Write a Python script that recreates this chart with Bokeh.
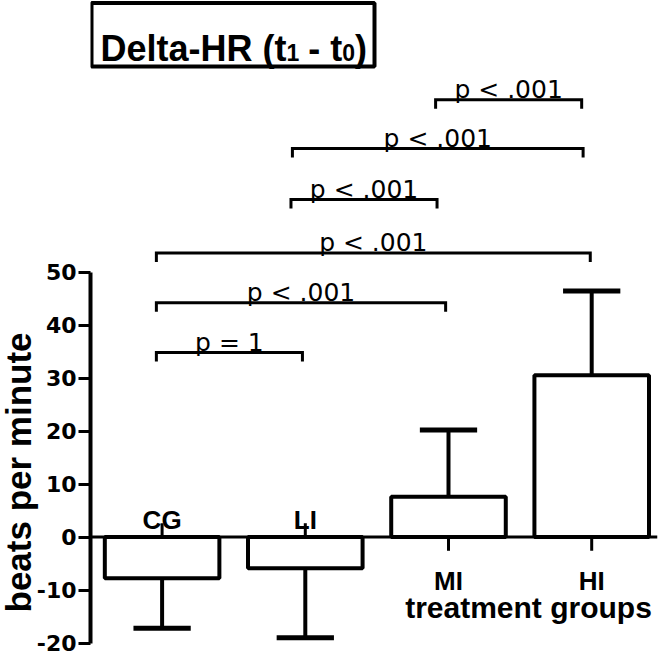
import numpy as np
from bokeh.plotting import figure
from bokeh.models import Range1d, FixedTicker, Span, Title
from bokeh.core.properties import value
from bokeh.embed import file_html
from bokeh.resources import INLINE

# ---------------- data ----------------
groups = ["CG", "LI", "MI", "HI"]
means = [-7.8, -5.9, 7.6, 30.5]          # beats per minute
sds = [9.4, 13.1, 12.6, 15.9]            # one-sided error bars
y_ticks = [-20, -10, 0, 10, 20, 30, 40, 50]

br_left = [0.96, 0.96, 0.96, 1.90, 1.91, 2.91]
br_right = [1.98, 2.98, 3.99, 2.92, 3.94, 3.93]
br_y = [34.8, 44.2, 53.6, 63.7, 73.3, 82.5]
br_text = ["p = 1", "p < .001", "p < .001", "p < .001", "p < .001", "p < .001"]

title_parts = ["Delta-HR (t", "1", "- t", "0", ")"]
y_label = "beats per minute"
x_label = "treatment groups"

# ---------------- layout ----------------
W, H = 660, 656
X0, X1 = 0.5, 4.4595
YPX = 5.3            # pixels per unit
Y1 = 536.5 / YPX
Y0 = (536.5 - H) / YPX
BL, BR, BT, BB = 90, 3, 0, 0
FW = W - BL - BR
FH = H - BT - BB
XS = FW / (X1 - X0)
YS = FH / (Y1 - Y0)


def px2x(ix):
    return X0 + (ix - BL) / XS


def px2y(iy):
    return Y1 - (iy - BT) / YS


p = figure(width=W, height=H, x_range=Range1d(X0, X1), y_range=Range1d(Y0, Y1),
           output_backend="svg", toolbar_location=None, x_axis_location=None,
           min_border_left=BL, min_border_right=BR, min_border_top=BT,
           min_border_bottom=BB)
p.grid.visible = False
p.outline_line_color = None
p.background_fill_color = "white"

yax = p.yaxis[0]
yax.ticker = FixedTicker(ticks=y_ticks)
yax.major_label_overrides = {t: str(t) for t in y_ticks}
yax.bounds = (-20, 50)
yax.minor_tick_line_color = None
yax.major_tick_in = 0
yax.major_tick_out = 12
yax.axis_line_width = 4
yax.major_tick_line_width = 3
yax.axis_line_color = "black"
yax.major_tick_line_color = "black"
yax.major_label_text_font = "DejaVu Sans"
yax.major_label_text_font_style = "bold"
yax.major_label_text_font_size = "22px"
yax.major_label_text_color = "black"
yax.major_label_standoff = 2

# y axis label as a left-side title, placed along the axis extent
p.add_layout(Title(text=y_label, align="left", offset=44, standoff=-8,
                   vertical_align="bottom", text_font="Liberation Sans",
                   text_font_style="bold", text_font_size="35px",
                   text_color="black"), "left")

x = np.arange(1, len(groups) + 1, dtype=float)
m = np.array(means)
s = np.array(sds)
sgn = np.sign(m)
ends = m + sgn * s

# bars
p.vbar(x=x, top=m, bottom=0, width=0.8, fill_color="white",
       line_color="black", line_width=4)
# error bars (one-sided)
p.segment(x0=x, y0=m, x1=x, y1=ends, line_color="black", line_width=4)
p.segment(x0=x - 0.2, y0=ends, x1=x + 0.2, y1=ends, line_color="black", line_width=5)

# zero line (x axis)
p.add_layout(Span(location=0, dimension="width", line_color="black", line_width=3))

# category ticks and labels
p.segment(x0=x, y0=np.zeros_like(x), x1=x, y1=-sgn * 2.6, line_color="black", line_width=3)
lab_y = np.where(sgn < 0, 3.3, -8.3)
p.text(x=x, y=lab_y, text=groups, text_font=value("Liberation Sans"),
       text_font_style="bold", text_font_size="26px", text_align="center",
       text_baseline="alphabetic", text_color="black")

p.text(x=[px2x(528)], y=[px2y(607)], text=[x_label], text_font=value("Liberation Sans"),
       text_font_style="bold", text_font_size="30px", text_align="center",
       text_baseline="alphabetic", text_color="black")

# significance brackets
drop = 1.7
xs = [[l, l, r, r] for l, r in zip(br_left, br_right)]
ys = [[yy - drop, yy, yy, yy - drop] for yy in br_y]
p.multi_line(xs=xs, ys=ys, line_color="black", line_width=3, line_join="miter")
p.text(x=[(l + r) / 2 for l, r in zip(br_left, br_right)], y=[yy + 1.9 for yy in br_y],
       text=br_text, text_font=value("DejaVu Sans"), text_font_size="25px",
       text_align="center", text_baseline="alphabetic", text_color="black")

# title box with subscripted text
p.quad(left=[px2x(91)], right=[px2x(374)], top=[px2y(2.5)], bottom=[px2y(66)],
       fill_color=None, line_color="black", line_width=4)
tx = [100, 286, 307.7, 341.7, 354.5]
ty = [48, 51.5, 48, 51.5, 48]
tsz = ["36px", "23px", "36px", "23px", "36px"]
p.text(x=[px2x(v) for v in tx], y=[px2y(v) for v in ty], text=title_parts,
       text_font=value("Liberation Sans"), text_font_style="bold",
       text_font_size=tsz, text_align="left", text_baseline="alphabetic",
       text_color="black")

open("out.html", "w").write(file_html(p, INLINE))
